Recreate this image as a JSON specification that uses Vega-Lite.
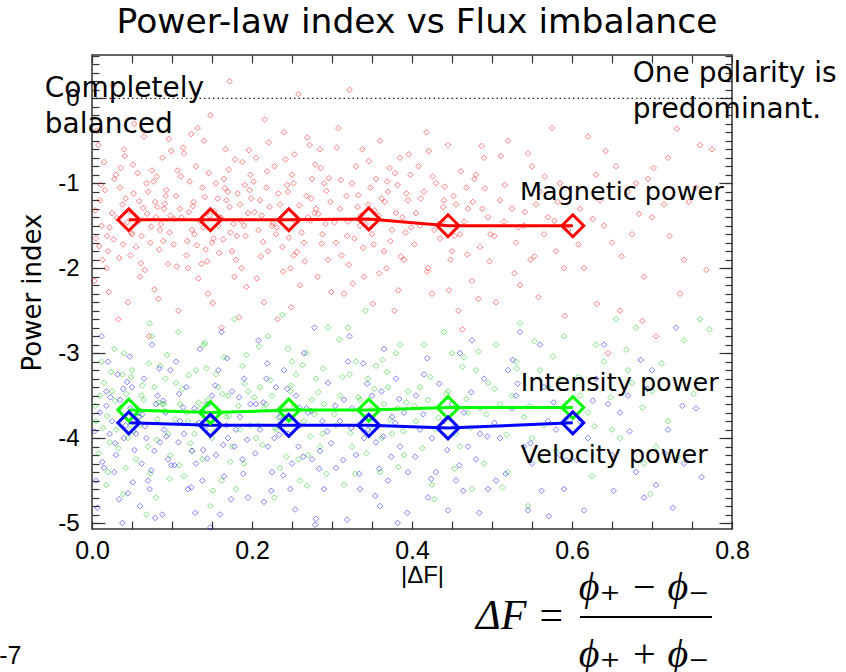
{
  "$schema": "https://vega.github.io/schema/vega-lite/v6.json",
  "width": 640,
  "height": 474,
  "autosize": {"type": "none"},
  "padding": {"left": 92, "top": 55, "right": 114, "bottom": 143},
  "background": "white",
  "config": {
    "view": {"stroke": "#333333", "strokeWidth": 1.5},
    "axis": {"grid": false, "domain": false, "tickColor": "#333333", "tickWidth": 1.2, "labelColor": "black", "titleColor": "black", "labelFlush": false, "labelOverlap": false}
  },
  "title": {"text": "Power-law index vs Flux imbalance", "font": "DejaVu Sans", "fontSize": 34.5, "fontWeight": "normal", "color": "black", "anchor": "middle", "baseline": "alphabetic", "offset": -13, "dx": 5},
  "datasets": {
    "red": [{"x":0.01,"y":-1.2},{"x":0.03,"y":-0.9},{"x":0.05,"y":-1.6},{"x":0.07,"y":-1.1},{"x":0.02,"y":-1.8},{"x":0.08,"y":-1.4},{"x":0.04,"y":-0.6},{"x":0.06,"y":-2.1},{"x":0.09,"y":-1.3},{"x":0.012,"y":-1.5},{"x":0.035,"y":-1.05},{"x":0.055,"y":-1.75},{"x":0.075,"y":-0.85},{"x":0.095,"y":-1.95},{"x":0.025,"y":-1.35},{"x":0.045,"y":-2.4},{"x":0.065,"y":-0.45},{"x":0.085,"y":-1.55},{"x":0.015,"y":-0.75},{"x":0.092,"y":-1.15},{"x":0.005,"y":-1.65},{"x":0.038,"y":-1.25},{"x":0.058,"y":-1.45},{"x":0.078,"y":-2.25},{"x":0.028,"y":-0.95},{"x":0.048,"y":-1.85},{"x":0.068,"y":-1.0},{"x":0.088,"y":-0.7},{"x":0.018,"y":-2.0},{"x":0.098,"y":-1.38},{"x":0.022,"y":-1.52},{"x":0.042,"y":-1.18},{"x":0.062,"y":-1.62},{"x":0.082,"y":-1.28},{"x":0.008,"y":-0.55},{"x":0.033,"y":-2.6},{"x":0.053,"y":-0.3},{"x":0.073,"y":-1.7},{"x":0.093,"y":-1.08},{"x":0.013,"y":-1.9},{"x":0.026,"y":0.15},{"x":0.071,"y":-2.8},{"x":0.047,"y":-1.33},{"x":0.086,"y":-1.48},{"x":0.011,"y":-1.02},{"x":0.057,"y":-0.88},{"x":0.039,"y":-1.72},{"x":0.079,"y":-1.22},{"x":0.099,"y":-0.62},{"x":0.003,"y":-2.15},
      {"x":0.11,"y":-1.3},{"x":0.13,"y":-0.8},{"x":0.15,"y":-1.7},{"x":0.17,"y":-1.1},{"x":0.19,"y":-1.5},{"x":0.12,"y":-2.0},{"x":0.14,"y":-0.5},{"x":0.16,"y":-1.4},{"x":0.18,"y":-1.9},{"x":0.105,"y":-1.15},{"x":0.125,"y":-1.55},{"x":0.145,"y":-2.3},{"x":0.165,"y":-0.95},{"x":0.185,"y":-1.25},{"x":0.115,"y":-0.65},{"x":0.135,"y":-1.45},{"x":0.155,"y":-1.0},{"x":0.175,"y":-1.8},{"x":0.195,"y":-1.35},{"x":0.108,"y":-2.5},{"x":0.128,"y":-1.6},{"x":0.148,"y":-0.2},{"x":0.168,"y":-1.2},{"x":0.188,"y":-0.75},{"x":0.118,"y":-1.85},{"x":0.138,"y":-1.05},{"x":0.158,"y":-1.5},{"x":0.178,"y":-2.1},{"x":0.198,"y":-0.9},{"x":0.112,"y":-1.4},{"x":0.132,"y":-0.35},{"x":0.152,"y":-1.65},{"x":0.172,"y":-1.28},{"x":0.192,"y":-1.62},{"x":0.122,"y":-0.98},{"x":0.142,"y":-1.78},{"x":0.162,"y":-2.7},{"x":0.182,"y":-1.12},{"x":0.102,"y":-1.72},{"x":0.172,"y":0.2},{"x":0.127,"y":-1.22},{"x":0.147,"y":-1.38},{"x":0.167,"y":-0.6},{"x":0.187,"y":-2.0},{"x":0.107,"y":-0.85},{"x":0.137,"y":-1.95},{"x":0.157,"y":-1.18},{"x":0.177,"y":-1.48},{"x":0.197,"y":-1.08},
      {"x":0.21,"y":-1.2},{"x":0.23,"y":-1.6},{"x":0.25,"y":-0.9},{"x":0.27,"y":-1.4},{"x":0.29,"y":-1.0},{"x":0.22,"y":-1.8},{"x":0.24,"y":-0.4},{"x":0.26,"y":-2.2},{"x":0.28,"y":-1.3},{"x":0.205,"y":-0.7},{"x":0.225,"y":-1.5},{"x":0.245,"y":-1.1},{"x":0.265,"y":-1.7},{"x":0.285,"y":-0.6},{"x":0.215,"y":-2.4},{"x":0.235,"y":-1.25},{"x":0.255,"y":-1.45},{"x":0.275,"y":-0.95},{"x":0.295,"y":-1.9},{"x":0.208,"y":-1.55},{"x":0.228,"y":-0.8},{"x":0.248,"y":-2.0},{"x":0.268,"y":-1.15},{"x":0.288,"y":-1.6},{"x":0.218,"y":-1.05},{"x":0.238,"y":-1.75},{"x":0.258,"y":0.05},{"x":0.278,"y":-1.35},{"x":0.298,"y":-1.22},{"x":0.212,"y":-1.38},{"x":0.232,"y":-2.6},{"x":0.252,"y":-1.0},{"x":0.272,"y":-0.55},{"x":0.292,"y":-1.48},{"x":0.222,"y":-1.28},{"x":0.242,"y":-0.72},{"x":0.262,"y":-1.58},{"x":0.282,"y":-2.1},{"x":0.202,"y":-0.98},{"x":0.252,"y":-1.85},{"x":0.274,"y":-1.18},{"x":0.216,"y":-0.25},{"x":0.236,"y":-1.42},{"x":0.286,"y":-0.82},
      {"x":0.31,"y":-1.3},{"x":0.33,"y":-0.8},{"x":0.35,"y":-1.6},{"x":0.37,"y":-1.1},{"x":0.39,"y":-1.9},{"x":0.32,"y":-1.45},{"x":0.34,"y":-2.1},{"x":0.36,"y":-0.5},{"x":0.38,"y":-1.35},{"x":0.305,"y":-1.7},{"x":0.325,"y":-1.0},{"x":0.345,"y":-1.25},{"x":0.365,"y":-1.8},{"x":0.385,"y":-0.7},{"x":0.315,"y":-2.3},{"x":0.335,"y":-1.5},{"x":0.355,"y":-0.95},{"x":0.375,"y":-1.55},{"x":0.395,"y":-1.2},{"x":0.308,"y":-0.35},{"x":0.328,"y":-1.65},{"x":0.348,"y":-1.05},{"x":0.368,"y":-2.0},{"x":0.388,"y":-1.4},{"x":0.318,"y":-1.15},{"x":0.338,"y":-0.6},{"x":0.358,"y":-1.38},{"x":0.378,"y":-2.5},{"x":0.398,"y":-0.9},{"x":0.312,"y":-1.85},{"x":0.332,"y":-1.28},{"x":0.352,"y":-1.72},{"x":0.372,"y":-0.82},{"x":0.392,"y":-1.58},{"x":0.322,"y":0.1},{"x":0.342,"y":-1.48},{"x":0.362,"y":-1.18},{"x":0.382,"y":-1.02},
      {"x":0.41,"y":-1.5},{"x":0.43,"y":-1.0},{"x":0.45,"y":-1.8},{"x":0.47,"y":-1.3},{"x":0.49,"y":-0.7},{"x":0.42,"y":-2.0},{"x":0.44,"y":-1.2},{"x":0.46,"y":-1.6},{"x":0.48,"y":-0.9},{"x":0.405,"y":-1.35},{"x":0.425,"y":-2.3},{"x":0.445,"y":-0.55},{"x":0.465,"y":-1.45},{"x":0.485,"y":-1.75},{"x":0.415,"y":-1.1},{"x":0.435,"y":-1.65},{"x":0.455,"y":-1.25},{"x":0.475,"y":-2.15},{"x":0.495,"y":-1.4},{"x":0.408,"y":-0.8},{"x":0.428,"y":-1.55},{"x":0.448,"y":-1.9},{"x":0.468,"y":-1.05},{"x":0.488,"y":-1.3},{"x":0.418,"y":-0.4},{"x":0.438,"y":-1.45},{"x":0.458,"y":-2.5},{"x":0.478,"y":-0.95},{"x":0.498,"y":-1.6},{"x":0.452,"y":-1.15},
      {"x":0.51,"y":-1.2},{"x":0.53,"y":-1.7},{"x":0.55,"y":-0.8},{"x":0.57,"y":-1.4},{"x":0.59,"y":-2.0},{"x":0.52,"y":-0.5},{"x":0.54,"y":-1.5},{"x":0.56,"y":-1.1},{"x":0.58,"y":-1.8},{"x":0.505,"y":-2.4},{"x":0.525,"y":-1.3},{"x":0.545,"y":-0.65},{"x":0.565,"y":-1.6},{"x":0.585,"y":-1.0},{"x":0.515,"y":-1.45},{"x":0.535,"y":-2.2},{"x":0.555,"y":-1.25},{"x":0.575,"y":-0.35},{"x":0.595,"y":-1.55},{"x":0.548,"y":-1.9},
      {"x":0.61,"y":-1.3},{"x":0.63,"y":-0.9},{"x":0.65,"y":-1.7},{"x":0.67,"y":-1.1},{"x":0.69,"y":-2.1},{"x":0.62,"y":-0.45},{"x":0.64,"y":-1.5},{"x":0.66,"y":-2.5},{"x":0.68,"y":-1.0},{"x":0.7,"y":-1.4},{"x":0.72,"y":-0.7},{"x":0.74,"y":-1.9},{"x":0.76,"y":-0.55},{"x":0.615,"y":-2.0},{"x":0.635,"y":-1.2},{"x":0.655,"y":-0.8},{"x":0.675,"y":-1.6},{"x":0.695,"y":-0.95},{"x":0.715,"y":-1.25},{"x":0.735,"y":-2.3},{"x":0.755,"y":-1.05},{"x":0.775,"y":-0.6},{"x":0.645,"y":-3.0},{"x":0.705,"y":-2.8},
      {"x":0.004,"y":-1.32},{"x":0.016,"y":-1.08},{"x":0.027,"y":-1.66},{"x":0.036,"y":-0.82},{"x":0.044,"y":-1.46},{"x":0.052,"y":-1.12},{"x":0.061,"y":-1.94},{"x":0.069,"y":-1.36},{"x":0.077,"y":-0.98},{"x":0.084,"y":-1.78},{"x":0.091,"y":-1.24},{"x":0.097,"y":-1.58},{"x":0.009,"y":-1.74},{"x":0.021,"y":-2.28},{"x":0.031,"y":-1.41},{"x":0.041,"y":-0.68},{"x":0.049,"y":-1.58},{"x":0.059,"y":-1.21},{"x":0.066,"y":-2.02},{"x":0.074,"y":-1.51},{"x":0.081,"y":-0.92},{"x":0.089,"y":-1.68},{"x":0.006,"y":-0.38},{"x":0.019,"y":-1.62},{"x":0.034,"y":-1.88},{"x":0.051,"y":-0.78},{"x":0.064,"y":-1.29},{"x":0.083,"y":-2.36},{"x":0.096,"y":-0.48},
      {"x":0.103,"y":-1.42},{"x":0.111,"y":-0.92},{"x":0.119,"y":-1.68},{"x":0.126,"y":-1.27},{"x":0.133,"y":-2.12},{"x":0.139,"y":-1.52},{"x":0.146,"y":-0.88},{"x":0.153,"y":-1.33},{"x":0.159,"y":-1.82},{"x":0.166,"y":-1.06},{"x":0.173,"y":-1.58},{"x":0.179,"y":-0.72},{"x":0.186,"y":-1.44},{"x":0.193,"y":-2.22},{"x":0.199,"y":-1.18},{"x":0.106,"y":-1.98},{"x":0.114,"y":-0.58},{"x":0.121,"y":-1.34},{"x":0.131,"y":-1.73},{"x":0.141,"y":-1.16},{"x":0.151,"y":-2.41},{"x":0.161,"y":-1.41},{"x":0.171,"y":-0.84},{"x":0.181,"y":-1.62},{"x":0.191,"y":-1.02},{"x":0.124,"y":-0.42},{"x":0.144,"y":-1.92},{"x":0.164,"y":-1.66},{"x":0.184,"y":-2.58},{"x":0.196,"y":-0.61},
      {"x":0.203,"y":-1.34},{"x":0.211,"y":-1.86},{"x":0.219,"y":-0.86},{"x":0.226,"y":-1.47},{"x":0.233,"y":-1.12},{"x":0.239,"y":-2.04},{"x":0.246,"y":-1.64},{"x":0.253,"y":-0.66},{"x":0.259,"y":-1.26},{"x":0.266,"y":-1.92},{"x":0.273,"y":-1.44},{"x":0.279,"y":-0.78},{"x":0.287,"y":-1.71},{"x":0.293,"y":-1.09},{"x":0.299,"y":-2.28},{"x":0.206,"y":-2.12},{"x":0.221,"y":-0.52},{"x":0.231,"y":-1.52},{"x":0.244,"y":-1.02},{"x":0.256,"y":-1.81},{"x":0.269,"y":-0.46},{"x":0.283,"y":-1.36},{"x":0.296,"y":-0.94},{"x":0.214,"y":-1.69},{"x":0.249,"y":-2.46},
      {"x":0.303,"y":-1.46},{"x":0.311,"y":-0.96},{"x":0.319,"y":-1.62},{"x":0.326,"y":-2.18},{"x":0.333,"y":-1.14},{"x":0.339,"y":-1.76},{"x":0.346,"y":-0.74},{"x":0.353,"y":-1.32},{"x":0.359,"y":-2.06},{"x":0.366,"y":-1.22},{"x":0.373,"y":-1.68},{"x":0.379,"y":-0.88},{"x":0.386,"y":-1.86},{"x":0.393,"y":-1.12},{"x":0.399,"y":-1.52},{"x":0.306,"y":-0.58},{"x":0.321,"y":-1.96},{"x":0.336,"y":-1.38},{"x":0.351,"y":-2.42},{"x":0.369,"y":-0.98},{"x":0.383,"y":-2.26},{"x":0.396,"y":-0.66},
      {"x":0.403,"y":-1.72},{"x":0.411,"y":-1.18},{"x":0.419,"y":-2.04},{"x":0.426,"y":-0.92},{"x":0.433,"y":-1.48},{"x":0.439,"y":-1.28},{"x":0.446,"y":-2.26},{"x":0.453,"y":-1.62},{"x":0.461,"y":-0.86},{"x":0.469,"y":-1.84},{"x":0.476,"y":-1.22},{"x":0.483,"y":-2.36},{"x":0.491,"y":-1.06},{"x":0.497,"y":-1.92},{"x":0.421,"y":-0.62},{"x":0.441,"y":-1.04},{"x":0.463,"y":-2.72},{"x":0.487,"y":-0.56},
      {"x":0.503,"y":-1.62},{"x":0.516,"y":-1.02},{"x":0.528,"y":-2.06},{"x":0.541,"y":-1.34},{"x":0.553,"y":-1.86},{"x":0.566,"y":-0.92},{"x":0.578,"y":-1.44},{"x":0.591,"y":-2.56},{"x":0.511,"y":-0.68},{"x":0.533,"y":-1.52},{"x":0.558,"y":-2.34},{"x":0.582,"y":-1.22},
      {"x":0.608,"y":-1.72},{"x":0.626,"y":-1.42},{"x":0.642,"y":-0.62},{"x":0.662,"y":-1.86},{"x":0.684,"y":-1.36},{"x":0.702,"y":-0.82},{"x":0.722,"y":-1.62},{"x":0.746,"y":-1.22},{"x":0.768,"y":-2.02},{"x":0.631,"y":-2.42},{"x":0.688,"y":-2.62},{"x":0.731,"y":-0.36}],
    "green": [{"x":0.01,"y":-3.5},{"x":0.03,"y":-3.9},{"x":0.05,"y":-3.2},{"x":0.07,"y":-4.1},{"x":0.09,"y":-3.6},{"x":0.02,"y":-4.4},{"x":0.04,"y":-3.0},{"x":0.06,"y":-3.75},{"x":0.08,"y":-4.7},{"x":0.015,"y":-3.35},{"x":0.035,"y":-3.65},{"x":0.055,"y":-4.25},{"x":0.075,"y":-2.8},{"x":0.095,"y":-3.95},{"x":0.025,"y":-3.45},{"x":0.045,"y":-4.0},{"x":0.065,"y":-3.55},{"x":0.085,"y":-3.15},{"x":0.005,"y":-3.8},{"x":0.018,"y":-4.55},{"x":0.038,"y":-3.25},{"x":0.058,"y":-3.7},{"x":0.078,"y":-3.4},{"x":0.098,"y":-4.2},{"x":0.028,"y":-2.95},{"x":0.048,"y":-3.85},{"x":0.068,"y":-4.9},{"x":0.088,"y":-3.6},{"x":0.012,"y":-3.1},{"x":0.042,"y":-4.35},{"x":0.062,"y":-3.5},{"x":0.082,"y":-3.78},{"x":0.022,"y":-4.05},{"x":0.072,"y":-2.65},{"x":0.092,"y":-3.3},
      {"x":0.11,"y":-3.6},{"x":0.13,"y":-3.2},{"x":0.15,"y":-4.0},{"x":0.17,"y":-3.5},{"x":0.19,"y":-4.3},{"x":0.12,"y":-3.8},{"x":0.14,"y":-2.9},{"x":0.16,"y":-3.7},{"x":0.18,"y":-4.6},{"x":0.105,"y":-3.35},{"x":0.125,"y":-4.15},{"x":0.145,"y":-3.55},{"x":0.165,"y":-3.05},{"x":0.185,"y":-3.9},{"x":0.115,"y":-4.45},{"x":0.135,"y":-3.65},{"x":0.155,"y":-3.25},{"x":0.175,"y":-4.1},{"x":0.195,"y":-3.45},{"x":0.108,"y":-2.75},{"x":0.128,"y":-3.95},{"x":0.148,"y":-4.8},{"x":0.168,"y":-3.75},{"x":0.188,"y":-3.15},{"x":0.118,"y":-3.7},{"x":0.138,"y":-4.25},{"x":0.158,"y":-3.4},{"x":0.178,"y":-2.6},{"x":0.198,"y":-3.85},{"x":0.142,"y":-3.6},{"x":0.162,"y":-4.5},
      {"x":0.21,"y":-3.4},{"x":0.23,"y":-3.9},{"x":0.25,"y":-3.1},{"x":0.27,"y":-4.2},{"x":0.29,"y":-3.6},{"x":0.22,"y":-2.8},{"x":0.24,"y":-3.7},{"x":0.26,"y":-4.5},{"x":0.28,"y":-3.3},{"x":0.205,"y":-4.0},{"x":0.225,"y":-3.5},{"x":0.245,"y":-2.95},{"x":0.265,"y":-3.8},{"x":0.285,"y":-4.1},{"x":0.215,"y":-3.65},{"x":0.235,"y":-4.35},{"x":0.255,"y":-3.25},{"x":0.275,"y":-3.55},{"x":0.295,"y":-2.7},{"x":0.208,"y":-3.85},{"x":0.228,"y":-4.7},{"x":0.248,"y":-3.45},{"x":0.268,"y":-3.0},{"x":0.288,"y":-3.95},{"x":0.218,"y":-3.6},{"x":0.258,"y":-4.25},{"x":0.278,"y":-3.72},{"x":0.238,"y":-2.55},
      {"x":0.31,"y":-3.5},{"x":0.33,"y":-3.1},{"x":0.35,"y":-3.9},{"x":0.37,"y":-3.4},{"x":0.39,"y":-4.2},{"x":0.32,"y":-2.7},{"x":0.34,"y":-3.7},{"x":0.36,"y":-4.4},{"x":0.38,"y":-3.0},{"x":0.305,"y":-3.85},{"x":0.325,"y":-4.1},{"x":0.345,"y":-3.3},{"x":0.365,"y":-3.6},{"x":0.385,"y":-2.9},{"x":0.315,"y":-4.55},{"x":0.335,"y":-3.55},{"x":0.355,"y":-3.15},{"x":0.375,"y":-3.95},{"x":0.395,"y":-3.45},{"x":0.342,"y":-2.5},{"x":0.362,"y":-4.0},{"x":0.382,"y":-3.65},{"x":0.322,"y":-3.25},
      {"x":0.41,"y":-3.4},{"x":0.43,"y":-3.9},{"x":0.45,"y":-3.0},{"x":0.47,"y":-3.7},{"x":0.49,"y":-4.3},{"x":0.42,"y":-3.55},{"x":0.44,"y":-2.75},{"x":0.46,"y":-4.1},{"x":0.48,"y":-3.2},{"x":0.405,"y":-3.8},{"x":0.425,"y":-4.55},{"x":0.445,"y":-3.45},{"x":0.465,"y":-3.05},{"x":0.485,"y":-3.65},{"x":0.415,"y":-2.9},{"x":0.455,"y":-3.95},{"x":0.475,"y":-4.6},{"x":0.495,"y":-3.35},
      {"x":0.51,"y":-3.6},{"x":0.53,"y":-3.1},{"x":0.55,"y":-4.0},{"x":0.57,"y":-3.4},{"x":0.59,"y":-2.8},{"x":0.52,"y":-4.4},{"x":0.54,"y":-3.75},{"x":0.56,"y":-3.2},{"x":0.58,"y":-4.15},{"x":0.505,"y":-2.9},{"x":0.525,"y":-3.5},{"x":0.545,"y":-4.8},{"x":0.565,"y":-3.85},{"x":0.585,"y":-3.3},{"x":0.535,"y":-2.65},
      {"x":0.61,"y":-3.5},{"x":0.63,"y":-2.9},{"x":0.65,"y":-3.9},{"x":0.67,"y":-3.2},{"x":0.69,"y":-4.3},{"x":0.62,"y":-3.7},{"x":0.64,"y":-3.1},{"x":0.66,"y":-4.0},{"x":0.68,"y":-2.7},{"x":0.7,"y":-3.45},{"x":0.72,"y":-3.8},{"x":0.74,"y":-2.85},{"x":0.76,"y":-2.6},{"x":0.625,"y":-4.45},{"x":0.675,"y":-3.35},{"x":0.705,"y":-4.1},{"x":0.655,"y":-2.6},
      {"x":0.004,"y":-3.62},{"x":0.014,"y":-3.88},{"x":0.024,"y":-3.22},{"x":0.033,"y":-4.12},{"x":0.043,"y":-3.48},{"x":0.052,"y":-3.92},{"x":0.063,"y":-3.38},{"x":0.073,"y":-4.42},{"x":0.083,"y":-3.58},{"x":0.094,"y":-3.02},{"x":0.008,"y":-4.18},{"x":0.019,"y":-3.74},{"x":0.029,"y":-3.56},{"x":0.039,"y":-4.66},{"x":0.049,"y":-3.28},{"x":0.061,"y":-3.84},{"x":0.071,"y":-3.12},{"x":0.081,"y":-4.02},{"x":0.091,"y":-3.68},{"x":0.097,"y":-4.48},
      {"x":0.104,"y":-3.78},{"x":0.113,"y":-3.42},{"x":0.123,"y":-4.06},{"x":0.133,"y":-3.58},{"x":0.143,"y":-3.18},{"x":0.153,"y":-3.92},{"x":0.163,"y":-3.48},{"x":0.173,"y":-4.28},{"x":0.183,"y":-3.62},{"x":0.193,"y":-3.02},{"x":0.109,"y":-4.32},{"x":0.121,"y":-3.26},{"x":0.131,"y":-3.84},{"x":0.151,"y":-4.62},{"x":0.171,"y":-3.74},{"x":0.191,"y":-3.36},{"x":0.141,"y":-2.88},
      {"x":0.203,"y":-3.52},{"x":0.213,"y":-4.08},{"x":0.223,"y":-3.32},{"x":0.233,"y":-3.76},{"x":0.243,"y":-4.22},{"x":0.253,"y":-3.62},{"x":0.263,"y":-3.14},{"x":0.273,"y":-3.98},{"x":0.283,"y":-3.46},{"x":0.293,"y":-4.42},{"x":0.209,"y":-2.92},{"x":0.229,"y":-3.88},{"x":0.249,"y":-3.38},{"x":0.269,"y":-4.56},{"x":0.289,"y":-3.18},{"x":0.241,"y":-3.66},
      {"x":0.303,"y":-3.72},{"x":0.313,"y":-3.28},{"x":0.323,"y":-3.94},{"x":0.333,"y":-3.52},{"x":0.343,"y":-4.18},{"x":0.353,"y":-3.42},{"x":0.363,"y":-3.08},{"x":0.373,"y":-3.78},{"x":0.383,"y":-4.34},{"x":0.393,"y":-3.58},{"x":0.309,"y":-2.84},{"x":0.329,"y":-4.42},{"x":0.349,"y":-3.66},{"x":0.369,"y":-3.22},{"x":0.389,"y":-3.92},
      {"x":0.403,"y":-3.62},{"x":0.413,"y":-4.12},{"x":0.423,"y":-3.28},{"x":0.433,"y":-3.76},{"x":0.443,"y":-3.48},{"x":0.453,"y":-4.36},{"x":0.463,"y":-3.16},{"x":0.473,"y":-3.88},{"x":0.483,"y":-2.98},{"x":0.493,"y":-3.72},{"x":0.428,"y":-4.72},{"x":0.468,"y":-3.54},
      {"x":0.503,"y":-3.42},{"x":0.518,"y":-3.96},{"x":0.531,"y":-3.18},{"x":0.547,"y":-3.62},{"x":0.561,"y":-4.26},{"x":0.576,"y":-3.04},{"x":0.592,"y":-3.78},{"x":0.513,"y":-4.58},{"x":0.553,"y":-2.86},
      {"x":0.608,"y":-3.28},{"x":0.628,"y":-3.86},{"x":0.648,"y":-3.52},{"x":0.668,"y":-2.96},{"x":0.688,"y":-3.64},{"x":0.712,"y":-3.12},{"x":0.732,"y":-4.22},{"x":0.752,"y":-3.48},{"x":0.772,"y":-2.72},{"x":0.698,"y":-4.66}],
    "blue": [{"x":0.01,"y":-3.7},{"x":0.03,"y":-4.2},{"x":0.05,"y":-3.4},{"x":0.07,"y":-4.5},{"x":0.09,"y":-3.9},{"x":0.02,"y":-3.1},{"x":0.04,"y":-4.0},{"x":0.06,"y":-4.8},{"x":0.08,"y":-3.6},{"x":0.015,"y":-4.35},{"x":0.035,"y":-3.55},{"x":0.055,"y":-3.95},{"x":0.075,"y":-2.9},{"x":0.095,"y":-4.25},{"x":0.025,"y":-3.8},{"x":0.045,"y":-4.65},{"x":0.065,"y":-3.3},{"x":0.085,"y":-4.05},{"x":0.005,"y":-4.5},{"x":0.018,"y":-3.45},{"x":0.038,"y":-5.0},{"x":0.058,"y":-3.75},{"x":0.078,"y":-4.15},{"x":0.098,"y":-3.2},{"x":0.028,"y":-4.4},{"x":0.048,"y":-3.65},{"x":0.068,"y":-4.0},{"x":0.088,"y":-4.9},{"x":0.012,"y":-2.8},{"x":0.042,"y":-3.85},{"x":0.062,"y":-4.3},{"x":0.082,"y":-3.5},{"x":0.022,"y":-3.95},{"x":0.072,"y":-4.6},{"x":0.092,"y":-3.7},{"x":0.032,"y":-3.25},
      {"x":0.11,"y":-3.8},{"x":0.13,"y":-4.3},{"x":0.15,"y":-3.5},{"x":0.17,"y":-4.0},{"x":0.19,"y":-3.3},{"x":0.12,"y":-4.6},{"x":0.14,"y":-3.7},{"x":0.16,"y":-4.9},{"x":0.18,"y":-3.9},{"x":0.105,"y":-3.1},{"x":0.125,"y":-4.15},{"x":0.145,"y":-3.6},{"x":0.165,"y":-4.45},{"x":0.185,"y":-3.75},{"x":0.115,"y":-3.95},{"x":0.135,"y":-2.95},{"x":0.155,"y":-4.2},{"x":0.175,"y":-3.45},{"x":0.195,"y":-4.7},{"x":0.108,"y":-4.05},{"x":0.128,"y":-3.65},{"x":0.148,"y":-5.05},{"x":0.168,"y":-3.85},{"x":0.188,"y":-4.25},{"x":0.118,"y":-3.4},{"x":0.138,"y":-4.5},{"x":0.158,"y":-3.2},{"x":0.178,"y":-4.1},{"x":0.198,"y":-3.6},{"x":0.142,"y":-3.9},{"x":0.162,"y":-2.75},
      {"x":0.21,"y":-3.9},{"x":0.23,"y":-3.4},{"x":0.25,"y":-4.3},{"x":0.27,"y":-3.7},{"x":0.29,"y":-4.6},{"x":0.22,"y":-4.1},{"x":0.24,"y":-3.2},{"x":0.26,"y":-3.85},{"x":0.28,"y":-4.95},{"x":0.205,"y":-3.6},{"x":0.225,"y":-4.4},{"x":0.245,"y":-3.95},{"x":0.265,"y":-3.0},{"x":0.285,"y":-4.15},{"x":0.215,"y":-4.75},{"x":0.235,"y":-3.75},{"x":0.255,"y":-3.5},{"x":0.275,"y":-4.25},{"x":0.295,"y":-3.35},{"x":0.208,"y":-2.85},{"x":0.228,"y":-4.0},{"x":0.248,"y":-4.6},{"x":0.268,"y":-3.65},{"x":0.288,"y":-3.8},{"x":0.218,"y":-3.3},{"x":0.258,"y":-4.1},{"x":0.278,"y":-2.7},
      {"x":0.31,"y":-3.8},{"x":0.33,"y":-4.2},{"x":0.35,"y":-3.5},{"x":0.37,"y":-4.5},{"x":0.39,"y":-3.7},{"x":0.32,"y":-3.1},{"x":0.34,"y":-4.0},{"x":0.36,"y":-4.8},{"x":0.38,"y":-3.3},{"x":0.305,"y":-4.35},{"x":0.325,"y":-3.65},{"x":0.345,"y":-3.9},{"x":0.365,"y":-2.95},{"x":0.385,"y":-4.1},{"x":0.315,"y":-3.55},{"x":0.335,"y":-4.6},{"x":0.355,"y":-4.05},{"x":0.375,"y":-3.75},{"x":0.395,"y":-4.4},{"x":0.322,"y":-2.8},{"x":0.362,"y":-3.45},{"x":0.382,"y":-5.0},
      {"x":0.41,"y":-3.9},{"x":0.43,"y":-4.4},{"x":0.45,"y":-3.6},{"x":0.47,"y":-4.1},{"x":0.49,"y":-3.3},{"x":0.42,"y":-4.7},{"x":0.44,"y":-3.8},{"x":0.46,"y":-3.0},{"x":0.48,"y":-4.25},{"x":0.405,"y":-3.5},{"x":0.425,"y":-4.0},{"x":0.445,"y":-4.85},{"x":0.465,"y":-3.7},{"x":0.485,"y":-3.95},{"x":0.415,"y":-3.25},{"x":0.455,"y":-4.5},{"x":0.475,"y":-2.85},{"x":0.495,"y":-4.6},
      {"x":0.51,"y":-4.0},{"x":0.53,"y":-3.5},{"x":0.55,"y":-4.3},{"x":0.57,"y":-3.8},{"x":0.59,"y":-4.6},{"x":0.52,"y":-3.2},{"x":0.54,"y":-4.1},{"x":0.56,"y":-2.9},{"x":0.58,"y":-3.9},{"x":0.505,"y":-4.5},{"x":0.525,"y":-3.65},{"x":0.545,"y":-4.85},{"x":0.565,"y":-3.4},{"x":0.585,"y":-4.2},{"x":0.535,"y":-2.75},
      {"x":0.61,"y":-3.8},{"x":0.63,"y":-3.3},{"x":0.65,"y":-4.2},{"x":0.67,"y":-3.5},{"x":0.69,"y":-4.7},{"x":0.62,"y":-4.0},{"x":0.64,"y":-2.9},{"x":0.66,"y":-3.7},{"x":0.68,"y":-4.4},{"x":0.7,"y":-3.2},{"x":0.72,"y":-3.9},{"x":0.74,"y":-4.3},{"x":0.73,"y":-2.7},{"x":0.615,"y":-4.85},{"x":0.645,"y":-3.6},{"x":0.705,"y":-4.55},{"x":0.755,"y":-3.65},
      {"x":0.003,"y":-3.92},{"x":0.013,"y":-4.28},{"x":0.023,"y":-3.52},{"x":0.034,"y":-4.72},{"x":0.044,"y":-3.34},{"x":0.053,"y":-4.14},{"x":0.063,"y":-3.72},{"x":0.074,"y":-4.38},{"x":0.084,"y":-3.18},{"x":0.093,"y":-3.98},{"x":0.007,"y":-4.82},{"x":0.018,"y":-3.62},{"x":0.029,"y":-4.06},{"x":0.039,"y":-3.42},{"x":0.051,"y":-4.52},{"x":0.066,"y":-3.86},{"x":0.079,"y":-4.94},{"x":0.089,"y":-3.56},{"x":0.099,"y":-4.32},{"x":0.047,"y":-3.04},
      {"x":0.103,"y":-4.32},{"x":0.114,"y":-3.64},{"x":0.124,"y":-4.58},{"x":0.134,"y":-3.82},{"x":0.144,"y":-4.24},{"x":0.154,"y":-3.38},{"x":0.164,"y":-4.08},{"x":0.174,"y":-4.72},{"x":0.184,"y":-3.52},{"x":0.194,"y":-4.02},{"x":0.109,"y":-3.48},{"x":0.129,"y":-4.88},{"x":0.149,"y":-3.74},{"x":0.169,"y":-3.06},{"x":0.189,"y":-4.42},{"x":0.139,"y":-4.14},
      {"x":0.204,"y":-4.18},{"x":0.214,"y":-3.58},{"x":0.224,"y":-4.62},{"x":0.234,"y":-3.96},{"x":0.244,"y":-3.42},{"x":0.254,"y":-4.84},{"x":0.264,"y":-4.22},{"x":0.274,"y":-3.68},{"x":0.284,"y":-4.36},{"x":0.294,"y":-3.92},{"x":0.219,"y":-3.12},{"x":0.239,"y":-4.44},{"x":0.259,"y":-3.64},{"x":0.279,"y":-5.02},{"x":0.299,"y":-4.06},
      {"x":0.304,"y":-3.62},{"x":0.314,"y":-4.26},{"x":0.324,"y":-3.88},{"x":0.334,"y":-4.42},{"x":0.344,"y":-3.36},{"x":0.354,"y":-4.68},{"x":0.364,"y":-3.98},{"x":0.374,"y":-4.22},{"x":0.384,"y":-3.54},{"x":0.394,"y":-4.88},{"x":0.319,"y":-4.96},{"x":0.339,"y":-3.12},{"x":0.359,"y":-4.36},{"x":0.379,"y":-3.82},
      {"x":0.404,"y":-4.22},{"x":0.414,"y":-3.72},{"x":0.424,"y":-4.48},{"x":0.434,"y":-3.36},{"x":0.444,"y":-4.14},{"x":0.454,"y":-3.86},{"x":0.464,"y":-4.62},{"x":0.474,"y":-3.46},{"x":0.484,"y":-4.88},{"x":0.494,"y":-3.98},{"x":0.419,"y":-3.06},{"x":0.459,"y":-4.32},
      {"x":0.503,"y":-3.82},{"x":0.517,"y":-4.42},{"x":0.532,"y":-3.36},{"x":0.548,"y":-4.06},{"x":0.562,"y":-4.62},{"x":0.577,"y":-3.58},{"x":0.593,"y":-4.26},{"x":0.526,"y":-3.08},{"x":0.571,"y":-4.92},
      {"x":0.606,"y":-4.26},{"x":0.626,"y":-3.56},{"x":0.652,"y":-4.62},{"x":0.672,"y":-3.92},{"x":0.694,"y":-3.42},{"x":0.716,"y":-4.18},{"x":0.738,"y":-3.62},{"x":0.762,"y":-4.46},{"x":0.686,"y":-3.08},{"x":0.726,"y":-4.82}],
    "means": [
      {"x":0.046,"y":-1.43,"s":"Magnetic"},{"x":0.148,"y":-1.43,"s":"Magnetic"},{"x":0.246,"y":-1.43,"s":"Magnetic"},{"x":0.346,"y":-1.42,"s":"Magnetic"},{"x":0.445,"y":-1.5,"s":"Magnetic"},{"x":0.601,"y":-1.5,"s":"Magnetic"},
      {"x":0.046,"y":-3.67,"s":"Intensity"},{"x":0.148,"y":-3.7,"s":"Intensity"},{"x":0.246,"y":-3.67,"s":"Intensity"},{"x":0.346,"y":-3.67,"s":"Intensity"},{"x":0.445,"y":-3.64,"s":"Intensity"},{"x":0.601,"y":-3.64,"s":"Intensity"},
      {"x":0.046,"y":-3.82,"s":"Velocity"},{"x":0.148,"y":-3.85,"s":"Velocity"},{"x":0.246,"y":-3.85,"s":"Velocity"},{"x":0.346,"y":-3.85,"s":"Velocity"},{"x":0.445,"y":-3.88,"s":"Velocity"},{"x":0.601,"y":-3.82,"s":"Velocity"}
    ],
    "bigLabels": [
      {"x":-0.059,"y":0.015,"t":"Completely\nbalanced"},
      {"x":0.676,"y":0.19,"t":"One polarity is\npredominant."}
    ],
    "labels": [
      {"x":0.535,"y":-1.196,"t":"Magnetic power"},
      {"x":0.536,"y":-3.45,"t":"Intensity power"},
      {"x":0.536,"y":-4.29,"t":"Velocity power"}
    ]
  },
  "layer": [
    {
      "data": {"name": "red"},
      "mark": {"type": "point", "shape": "diamond", "filled": false, "size": 32, "strokeWidth": 1, "opacity": 0.5, "color": "#ff0000"},
      "encoding": {
        "x": {"field": "x", "type": "quantitative", "scale": {"domain": [0, 0.8], "nice": false, "zero": false},
          "axis": {"orient": "bottom", "values": [0,0.05,0.1,0.15,0.2,0.25,0.3,0.35,0.4,0.45,0.5,0.55,0.6,0.65,0.7,0.75,0.8], "tickSize": -8, "labelExpr": "abs(datum.value*5-round(datum.value*5))<0.001 ? format(datum.value,'.1f') : ''", "labelFont": "Liberation Sans", "labelFontSize": 25, "labelPadding": 17, "title": "|ΔF|", "titleFont": "Liberation Sans", "titleFontSize": 24, "titleFontWeight": "normal", "titlePadding": 0, "titleX": 330}},
        "y": {"field": "y", "type": "quantitative", "scale": {"domain": [-5.07, 0.51], "nice": false, "zero": false},
          "axis": {"orient": "left", "values": [-5,-4,-3,-2,-1,0], "tickSize": -13, "labelExpr": "datum.value == 0 ? '0' : '-' + abs(datum.value)", "labelFont": "Liberation Sans", "labelFontSize": 24, "labelPadding": 26, "title": "Power index", "titleFont": "DejaVu Sans", "titleFontSize": 26, "titleFontWeight": "normal", "titlePadding": 12}}
      }
    },
    {
      "data": {"name": "green"},
      "mark": {"type": "point", "shape": "diamond", "filled": false, "size": 32, "strokeWidth": 1, "opacity": 0.5, "color": "#00cc00"},
      "encoding": {
        "x": {"field": "x", "type": "quantitative", "scale": {"domain": [0, 0.8], "nice": false, "zero": false},
          "axis": {"orient": "top", "values": [0,0.05,0.1,0.15,0.2,0.25,0.3,0.35,0.4,0.45,0.5,0.55,0.6,0.65,0.7,0.75,0.8], "tickSize": -8, "labels": false, "title": null}},
        "y": {"field": "y", "type": "quantitative", "scale": {"domain": [-5.07, 0.51], "nice": false, "zero": false},
          "axis": {"orient": "left", "values": [-5,-4.9,-4.8,-4.7,-4.6,-4.5,-4.4,-4.3,-4.2,-4.1,-4,-3.9,-3.8,-3.7,-3.6,-3.5,-3.4,-3.3,-3.2,-3.1,-3,-2.9,-2.8,-2.7,-2.6,-2.5,-2.4,-2.3,-2.2,-2.1,-2,-1.9,-1.8,-1.7,-1.6,-1.5,-1.4,-1.3,-1.2,-1.1,-1,-0.9,-0.8,-0.7,-0.6,-0.5,-0.4,-0.3,-0.2,-0.1,0,0.1,0.2,0.3,0.4,0.5], "tickSize": -7, "labels": false, "title": null}}
      }
    },
    {
      "data": {"name": "blue"},
      "mark": {"type": "point", "shape": "diamond", "filled": false, "size": 32, "strokeWidth": 1, "opacity": 0.5, "color": "#0000ff"},
      "encoding": {
        "x": {"field": "x", "type": "quantitative", "scale": {"domain": [0, 0.8], "nice": false, "zero": false}, "axis": null},
        "y": {"field": "y", "type": "quantitative", "scale": {"domain": [-5.07, 0.51], "nice": false, "zero": false},
          "axis": {"orient": "right", "values": [-5,-4,-3,-2,-1,0], "tickSize": -13, "labels": false, "title": null}}
      }
    },
    {
      "data": {"values": [{"y": 0}]},
      "mark": {"type": "rule", "color": "#222222", "strokeWidth": 1.2, "strokeDash": [1.5, 3]},
      "encoding": {
        "y": {"field": "y", "type": "quantitative", "scale": {"domain": [-5.07, 0.51], "nice": false, "zero": false},
          "axis": {"orient": "right", "values": [-5,-4.9,-4.8,-4.7,-4.6,-4.5,-4.4,-4.3,-4.2,-4.1,-4,-3.9,-3.8,-3.7,-3.6,-3.5,-3.4,-3.3,-3.2,-3.1,-3,-2.9,-2.8,-2.7,-2.6,-2.5,-2.4,-2.3,-2.2,-2.1,-2,-1.9,-1.8,-1.7,-1.6,-1.5,-1.4,-1.3,-1.2,-1.1,-1,-0.9,-0.8,-0.7,-0.6,-0.5,-0.4,-0.3,-0.2,-0.1,0,0.1,0.2,0.3,0.4,0.5], "tickSize": -7, "labels": false, "title": null}}
      }
    },
    {
      "data": {"name": "means"},
      "mark": {"type": "line", "strokeWidth": 3},
      "encoding": {
        "x": {"field": "x", "type": "quantitative", "scale": {"domain": [0, 0.8], "nice": false, "zero": false}, "axis": null},
        "y": {"field": "y", "type": "quantitative", "scale": {"domain": [-5.07, 0.51], "nice": false, "zero": false}, "axis": null},
        "color": {"field": "s", "type": "nominal", "scale": {"domain": ["Magnetic", "Intensity", "Velocity"], "range": ["#ff0000", "#00ff00", "#0000ff"]}, "legend": null}
      }
    },
    {
      "data": {"name": "means"},
      "mark": {"type": "point", "shape": "diamond", "filled": false, "size": 480, "strokeWidth": 3, "opacity": 1},
      "encoding": {
        "x": {"field": "x", "type": "quantitative", "scale": {"domain": [0, 0.8], "nice": false, "zero": false}, "axis": null},
        "y": {"field": "y", "type": "quantitative", "scale": {"domain": [-5.07, 0.51], "nice": false, "zero": false}, "axis": null},
        "color": {"field": "s", "type": "nominal", "scale": {"domain": ["Magnetic", "Intensity", "Velocity"], "range": ["#ff0000", "#00ff00", "#0000ff"]}, "legend": null}
      }
    },
    {
      "data": {"name": "bigLabels"},
      "mark": {"type": "text", "align": "left", "baseline": "alphabetic", "font": "DejaVu Sans", "fontSize": 28, "color": "black", "lineBreak": "\n", "lineHeight": 36},
      "encoding": {
        "x": {"field": "x", "type": "quantitative", "scale": {"domain": [0, 0.8], "nice": false, "zero": false}, "axis": null},
        "y": {"field": "y", "type": "quantitative", "scale": {"domain": [-5.07, 0.51], "nice": false, "zero": false}, "axis": null},
        "text": {"field": "t", "type": "nominal"}
      }
    },
    {
      "data": {"name": "labels"},
      "mark": {"type": "text", "align": "left", "baseline": "alphabetic", "font": "DejaVu Sans", "fontSize": 25.5, "color": "black"},
      "encoding": {
        "x": {"field": "x", "type": "quantitative", "scale": {"domain": [0, 0.8], "nice": false, "zero": false}, "axis": null},
        "y": {"field": "y", "type": "quantitative", "scale": {"domain": [-5.07, 0.51], "nice": false, "zero": false}, "axis": null},
        "text": {"field": "t", "type": "nominal"}
      }
    },
    {
      "data": {"values": [{"x": -0.116, "y": -6.66, "t": "-7"}]},
      "mark": {"type": "text", "align": "left", "baseline": "alphabetic", "font": "Liberation Sans", "fontSize": 25, "color": "black"},
      "encoding": {
        "x": {"field": "x", "type": "quantitative", "scale": {"domain": [0, 0.8], "nice": false, "zero": false}, "axis": null},
        "y": {"field": "y", "type": "quantitative", "scale": {"domain": [-5.07, 0.51], "nice": false, "zero": false}, "axis": null},
        "text": {"field": "t", "type": "nominal"}
      }
    },
    {
      "data": {"values": [{"x": 0.48, "y": -6.094, "t": "ΔF ="}]},
      "mark": {"type": "text", "align": "left", "baseline": "middle", "font": "Liberation Serif", "fontStyle": "italic", "fontSize": 42, "color": "black"},
      "encoding": {
        "x": {"field": "x", "type": "quantitative", "scale": {"domain": [0, 0.8], "nice": false, "zero": false}, "axis": null},
        "y": {"field": "y", "type": "quantitative", "scale": {"domain": [-5.07, 0.51], "nice": false, "zero": false}, "axis": null},
        "text": {"field": "t", "type": "nominal"}
      }
    },
    {
      "data": {"values": [{"x": 0.69, "y": -5.765, "t": "ϕ₊ − ϕ₋"}, {"x": 0.69, "y": -6.55, "t": "ϕ₊ + ϕ₋"}]},
      "mark": {"type": "text", "align": "center", "baseline": "middle", "font": "Liberation Serif, DejaVu Serif", "fontStyle": "italic", "fontSize": 40, "color": "black"},
      "encoding": {
        "x": {"field": "x", "type": "quantitative", "scale": {"domain": [0, 0.8], "nice": false, "zero": false}, "axis": null},
        "y": {"field": "y", "type": "quantitative", "scale": {"domain": [-5.07, 0.51], "nice": false, "zero": false}, "axis": null},
        "text": {"field": "t", "type": "nominal"}
      }
    },
    {
      "data": {"values": [{"x": 0.61, "x2": 0.775, "y": -6.106}]},
      "mark": {"type": "rule", "color": "black", "strokeWidth": 2},
      "encoding": {
        "x": {"field": "x", "type": "quantitative", "scale": {"domain": [0, 0.8], "nice": false, "zero": false}, "axis": null},
        "x2": {"field": "x2"},
        "y": {"field": "y", "type": "quantitative", "scale": {"domain": [-5.07, 0.51], "nice": false, "zero": false}, "axis": null}
      }
    }
  ],
  "resolve": {"axis": {"x": "independent", "y": "independent"}}
}
